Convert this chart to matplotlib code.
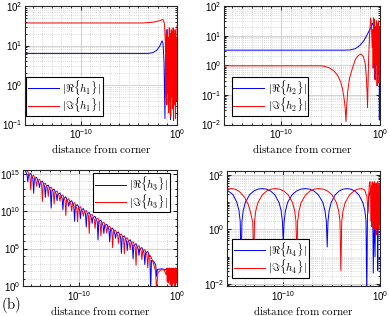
import numpy as np
import matplotlib
matplotlib.use("Agg")
import matplotlib.pyplot as plt
from matplotlib.ticker import FixedLocator, NullFormatter, LogFormatterSciNotation

plt.rcParams['font.family'] = ['Liberation Sans', 'DejaVu Sans']

# all curves stored as log10(distance), log10(|h|)
# ---- h1 ----
h1_re_x = [-15.8, -3.0, -2.5, -2.1, -1.8, -1.55, -1.45, -1.35, -1.25, -1.2, -1.12, -1.05,
           -0.98, -0.9, -0.82, -0.75, -0.68, -0.6, -0.5, -0.42, -0.35, -0.28, -0.2, -0.12, -0.06, 0.0]
h1_re_y = [0.8, 0.8, 0.82, 0.88, 0.98, 1.12, 1.05, 0.6, -0.85, 0.5, 1.4, 0.9,
           1.2, 0.3, 1.1, 0.6, -0.88, 0.9, 1.2, 0.2, 1.0, -0.4, 0.8, 0.1, 1.1, 0.5]
h1_im_x = [-15.8, -3.5, -2.5, -1.8, -1.45, -1.3, -1.2, -1.15,
           -1.1, -1.05, -1.0, -0.95, -0.9, -0.85, -0.8, -0.75, -0.7, -0.65, -0.6, -0.55,
           -0.5, -0.45, -0.4, -0.35, -0.3, -0.25, -0.2, -0.15, -0.1, -0.05, 0.0]
h1_im_y = [1.57, 1.57, 1.59, 1.63, 1.66, 1.55, 1.0, -0.3,
           1.3, -0.5, 1.4, -0.2, 1.2, -0.7, 1.45, -0.4, 1.3, -0.8, 1.4, -0.3,
           1.35, -0.6, 1.45, -0.9, 1.3, -0.5, 1.4, -0.85, 1.2, -0.4, 1.5]

# ---- h2 ----
h2_re_x = [-15.8, -3.5, -3.0, -2.5, -2.0, -1.6, -1.2, -0.9, -0.75, -0.68, -0.6, -0.55,
           -0.5, -0.42, -0.35, -0.28, -0.2, -0.15, -0.1, -0.07, -0.04, 0.0]
h2_re_y = [0.51, 0.51, 0.52, 0.56, 0.68, 0.85, 1.1, 1.3, 1.42, 1.35, 0.4, -0.45,
           0.6, 1.2, 0.8, 1.4, 0.3, -0.3, 0.9, -1.85, 0.5, 1.0]
h2_im_x = [-15.8, -6.0, -5.7, -5.2, -4.7, -4.3, -4.0, -3.8, -3.65, -3.53, -3.45, -3.38,
           -3.28, -3.1, -2.8, -2.5, -2.2, -1.95, -1.7, -1.5, -1.38, -1.3, -1.27, -1.22,
           -1.15, -1.05, -0.95, -0.88, -0.8,
           -0.75, -0.7, -0.65, -0.6, -0.55, -0.5, -0.45, -0.4, -0.35, -0.3, -0.25, -0.2,
           -0.15, -0.1, -0.05, 0.0]
h2_im_y = [-0.02, -0.02, -0.03, -0.08, -0.18, -0.34, -0.55, -0.8, -1.1, -1.45, -1.9, -1.4,
           -0.9, -0.45, -0.1, 0.2, 0.33, 0.38, 0.3, 0.05, -0.45, -1.0, -1.42, -0.7,
           0.3, 1.1, 1.6, 1.4, 0.6,
           1.2, -0.1, 1.6, 0.1, 1.55, -0.5, 1.3, 0.0, 1.5, -0.7, 1.4, -0.2,
           1.5, -0.6, 1.3, 0.5]

# ---- h3 ----
h3_re_x = [-15.8,
           -15.6, -15.38, -15.3, -15.22, -15.0, -14.78, -14.7, -14.62,
           -14.4, -14.18, -14.1, -14.02, -13.8, -13.58, -13.5, -13.42,
           -13.2, -12.98, -12.9, -12.82, -12.6, -12.38, -12.3, -12.22,
           -12.0, -11.78, -11.7, -11.62, -11.4, -11.18, -11.1, -11.02,
           -10.8, -10.58, -10.5, -10.42, -10.2, -9.98, -9.9, -9.82,
           -9.6, -9.38, -9.3, -9.22, -9.0, -8.78, -8.7, -8.62,
           -8.4, -8.18, -8.1, -8.02, -7.8, -7.58, -7.5, -7.42,
           -7.2, -6.98, -6.9, -6.82, -6.6, -6.38, -6.3, -6.22,
           -6.0, -5.78, -5.7, -5.62, -5.4, -5.18, -5.1, -5.02,
           -4.8, -4.58, -4.5, -4.42, -4.2, -3.98, -3.9, -3.82,
           -3.6, -3.38, -3.3, -3.22, -3.0, -2.78, -2.7, -2.62,
           -2.4, -2.18, -2.1, -2.02, -1.6, -1.2, -0.8, -0.62, -0.55, -0.48,
           -0.35, -0.25, -0.15, -0.08, 0.0]
h3_re_y = [15.75,
           15.57, 14.86, 13.91, 14.86, 15.05, 14.34, 12.39, 14.34,
           14.53, 13.82, 13.17, 13.82, 14.01, 13.30, 11.85, 13.30,
           13.48, 12.77, 10.42, 12.77, 12.96, 12.25, 11.40, 12.25,
           12.44, 11.73, 10.18, 11.73, 11.92, 11.21, 10.66, 11.21,
           11.40, 10.69, 8.64, 10.69, 10.87, 10.16, 9.01, 10.16,
           10.35, 9.64, 7.89, 9.64, 9.83, 9.12, 8.37, 9.12,
           9.31, 8.60, 6.15, 8.60, 8.79, 8.08, 7.03, 8.08,
           8.26, 7.55, 5.90, 7.55, 7.74, 7.03, 6.38, 7.03,
           7.22, 6.51, 4.36, 6.51, 6.70, 5.99, 4.74, 5.99,
           6.18, 5.47, 3.62, 5.47, 5.65, 4.94, 4.09, 4.94,
           5.13, 4.42, 2.87, 4.42, 4.61, 3.90, -0.65, 3.40,
           3.3, 2.8, 1.3, 2.2, 2.3, 2.2, 1.9, 1.0, -0.5, 1.2,
           2.0, 1.0, 2.1, 0.8, 1.9]
h3_im_x = [-15.8,
           -15.3, -15.08, -15.0, -14.92, -14.7, -14.48, -14.4, -14.32,
           -14.1, -13.88, -13.8, -13.72, -13.5, -13.28, -13.2, -13.12,
           -12.9, -12.68, -12.6, -12.52, -12.3, -12.08, -12.0, -11.92,
           -11.7, -11.48, -11.4, -11.32, -11.1, -10.88, -10.8, -10.72,
           -10.5, -10.28, -10.2, -10.12, -9.9, -9.68, -9.6, -9.52,
           -9.3, -9.08, -9.0, -8.92, -8.7, -8.48, -8.4, -8.32,
           -8.1, -7.88, -7.8, -7.72, -7.5, -7.28, -7.2, -7.12,
           -6.9, -6.68, -6.6, -6.52, -6.3, -6.08, -6.0, -5.92,
           -5.7, -5.48, -5.4, -5.32, -5.1, -4.88, -4.8, -4.72,
           -4.5, -4.28, -4.2, -4.12, -3.9, -3.68, -3.6, -3.52,
           -3.3, -3.08, -3.0, -2.92,
           -2.7, -2.45, -2.2, -2.1, -1.95, -1.6, -1.3, -1.12,
           -1.05, -1.0, -0.95, -0.9, -0.85, -0.8, -0.75, -0.7, -0.65, -0.6, -0.55,
           -0.5, -0.45, -0.4, -0.35, -0.3, -0.25, -0.2, -0.15, -0.1, -0.05, 0.0]
h3_im_y = [15.75,
           15.31, 14.60, 12.85, 14.60, 14.79, 14.08, 13.33, 14.08,
           14.27, 13.56, 11.31, 13.56, 13.75, 13.03, 11.98, 13.03,
           13.22, 12.51, 10.96, 12.51, 12.70, 11.99, 11.34, 11.99,
           12.18, 11.47, 9.42, 11.47, 11.66, 10.95, 10.00, 10.95,
           11.14, 10.42, 8.57, 10.42, 10.61, 9.90, 9.35, 9.90,
           10.09, 9.38, 7.03, 9.38, 9.57, 8.86, 7.71, 8.86,
           9.05, 8.34, 6.69, 8.34, 8.53, 7.81, 7.06, 7.81,
           8.00, 7.29, 5.14, 7.29, 7.48, 6.77, 5.72, 6.77,
           6.96, 6.25, 4.30, 6.25, 6.44, 5.73, 4.88, 5.73,
           5.92, 5.20, 2.75, 5.20, 5.39, 4.68, 3.53, 4.68,
           4.87, 4.16, 2.41, 4.16,
           4.0, 3.2, 2.0, -0.5, 1.8, 2.2, 2.1, 1.5,
           2.35, 0.6, 2.4, 0.4, 2.35, 0.8, 2.4, 0.2, 2.35, 0.5, 2.4,
           0.1, 2.35, 0.6, 2.4, 0.3, 2.35, -0.2, 2.4, 0.4, 2.35, 2.0]

# ---- h4 ----
h4_re_x = [-15.8, -15.65, -15.2, -14.8, -14.58, -14.45, -14.36,
           -14.27, -14.14, -13.92, -13.49, -13.05, -12.62, -12.18, -11.74, -11.31, -10.87,
           -10.44, -10.22, -10.09, -10.0,
           -9.91, -9.77, -9.55, -9.09, -8.64, -8.18, -7.73, -7.28, -6.82, -6.37,
           -5.91, -5.69, -5.55, -5.46,
           -5.38, -5.26, -5.05, -4.64, -4.23, -3.82, -3.42, -3.01, -2.60, -2.19,
           -1.78, -1.57, -1.45, -1.37,
           -1.3, -1.15, -1.0, -0.85, -0.75, -0.7, -0.62, -0.52, -0.45, -0.35, -0.28,
           -0.24, -0.18, -0.1, -0.04, 0.0]
h4_re_y = [1.43, 1.40, 1.28, 1.0, 0.7, 0.3, -1.3,
           0.30, 0.69, 0.99, 1.27, 1.41, 1.48, 1.50, 1.48, 1.41, 1.27,
           0.99, 0.69, 0.30, -0.46,
           0.30, 0.69, 0.99, 1.27, 1.41, 1.48, 1.50, 1.48, 1.41, 1.27,
           0.99, 0.69, 0.30, -0.64,
           0.30, 0.69, 0.99, 1.27, 1.41, 1.48, 1.50, 1.48, 1.41, 1.27,
           0.99, 0.69, 0.30, -2.5,
           0.5, 1.2, 1.45, 1.2, 0.4, -1.6, 0.6, -1.0, 0.9, 1.4, 0.3,
           -1.5, 0.8, 1.5, 0.5, 1.2]
h4_im_x = [-15.8, -15.65, -15.3, -14.9, -14.5, -14.0, -13.6, -13.38, -13.15, -13.06,
           -12.97, -12.84, -12.61, -12.17, -11.72, -11.28, -10.83, -10.38, -9.94, -9.49,
           -9.05, -8.82, -8.69, -8.6,
           -8.51, -8.37, -8.15, -7.69, -7.24, -6.78, -6.33, -5.87, -5.42, -4.96,
           -4.51, -4.28, -4.14, -4.05,
           -3.96, -3.82, -3.6, -3.15, -2.7, -2.3, -1.9, -1.6, -1.35,
           -1.25, -1.18, -1.1, -1.03, -0.97, -0.92,
           -0.88, -0.84, -0.8, -0.76, -0.72, -0.68, -0.64, -0.6, -0.56, -0.52, -0.48, -0.44,
           -0.4, -0.36, -0.32, -0.28, -0.24, -0.2, -0.16, -0.12, -0.08, -0.04, 0.0]
h4_im_y = [1.49, 1.49, 1.50, 1.47, 1.38, 1.18, 0.9, 0.62, 0.25, -1.2,
           0.30, 0.69, 0.99, 1.27, 1.41, 1.48, 1.50, 1.48, 1.41, 1.27,
           0.99, 0.69, 0.30, -1.0,
           0.30, 0.69, 0.99, 1.27, 1.41, 1.48, 1.50, 1.48, 1.41, 1.27,
           0.99, 0.69, 0.30, -1.5,
           0.30, 0.69, 0.99, 1.27, 1.41, 1.48, 1.50, 1.45, 1.2,
           0.6, 1.2, 1.7, 1.75, 1.3, 0.3,
           1.6, 0.1, 1.75, 0.3, 1.7, -0.1, 1.6, 0.4, 1.75, 0.0, 1.65, 0.2,
           1.7, -0.2, 1.6, 0.3, 1.75, 0.1, 1.6, 0.0, 1.7, 0.2, 1.5]

panels = [
    (h1_re_x, h1_re_y, h1_im_x, h1_im_y, r'$|\Re\{h_1\}|$', r'$|\Im\{h_1\}|$'),
    (h2_re_x, h2_re_y, h2_im_x, h2_im_y, r'$|\Re\{h_2\}|$', r'$|\Im\{h_2\}|$'),
    (h3_re_x, h3_re_y, h3_im_x, h3_im_y, r'$|\Re\{h_3\}|$', r'$|\Im\{h_3\}|$'),
    (h4_re_x, h4_re_y, h4_im_x, h4_im_y, r'$|\Re\{h_4\}|$', r'$|\Im\{h_4\}|$'),
]

# axes rectangles in figure fraction
rects = [[0.064, 0.606, 0.391, 0.375],
         [0.576, 0.606, 0.401, 0.375],
         [0.059, 0.095, 0.396, 0.367],
         [0.584, 0.095, 0.393, 0.364]]
ylims = [(1e-1, 1e2), (1e-2, 1e2), (1, 3.2e15), (8.5e-3, 1.4e2)]
ymajor = [10.0 ** np.arange(-1, 3), 10.0 ** np.arange(-2, 3),
          10.0 ** np.arange(0, 16, 5), 10.0 ** np.arange(-2, 3, 2)]
sub = np.arange(1, 10)
yminor = [np.outer(10.0 ** np.arange(-1, 2), sub).ravel(),
          np.outer(10.0 ** np.arange(-2, 2), sub).ravel(),
          10.0 ** np.arange(0, 16),
          np.outer(10.0 ** np.arange(-3, 3), sub).ravel()]
leg_loc = ['lower left', 'lower left', 'upper right', 'lower left']
leg_anchor = [(0.007, 0.072), (0.049, 0.072), (0.955, 0.974), (0.033, 0.069)]

fig = plt.figure(figsize=(3.89, 3.16), dpi=100)

for i, (rx, ry, ix, iy, lr, li) in enumerate(panels):
    ax = fig.add_axes(rects[i])
    ax.plot(10.0 ** np.array(rx), 10.0 ** np.array(ry), color='#0000ff', lw=0.7, label=lr)
    ax.plot(10.0 ** np.array(ix), 10.0 ** np.array(iy), color='#ff0000', lw=0.7, label=li)
    ax.set_xscale('log')
    ax.set_yscale('log')
    ax.set_xlim(1.6e-16, 1)
    ax.set_ylim(*ylims[i])

    ax.xaxis.set_major_locator(FixedLocator([1e-10, 1.0]))
    ax.xaxis.set_minor_locator(FixedLocator(10.0 ** np.arange(-16, 1)))
    ax.yaxis.set_major_locator(FixedLocator(ymajor[i]))
    ax.yaxis.set_minor_locator(FixedLocator(yminor[i]))
    ax.xaxis.set_major_formatter(LogFormatterSciNotation())
    ax.yaxis.set_major_formatter(LogFormatterSciNotation())
    ax.xaxis.set_minor_formatter(NullFormatter())
    ax.yaxis.set_minor_formatter(NullFormatter())

    ax.grid(True, which='major', color='#d4d4d4', lw=0.8, ls='-')
    ax.grid(True, which='minor', color='#b8b8b8', lw=0.5, ls=(0, (1, 2)))
    ax.set_axisbelow(True)
    ax.tick_params(which='both', direction='in', top=True, right=True, labelsize=7,
                   pad=2, width=0.6)
    ax.tick_params(which='major', length=3)
    ax.tick_params(which='minor', length=1.5)
    for s in ax.spines.values():
        s.set_linewidth(0.8)
        s.set_color('#262626')

    ax.set_xlabel(r'$\mathrm{distance\ from\ corner}$', fontsize=8, labelpad=1,
                  math_fontfamily='cm')
    leg = ax.legend(loc=leg_loc[i], bbox_to_anchor=leg_anchor[i], borderaxespad=0,
                    prop={'size': 8, 'math_fontfamily': 'cm'}, fancybox=False,
                    framealpha=1, edgecolor='black', handlelength=2.8,
                    labelspacing=-0.1, borderpad=0.15, handletextpad=0.3)
    leg.get_frame().set_linewidth(0.8)

fig.text(0.003, 0.022, r'$\mathrm{(b)}$', fontsize=10.5, math_fontfamily='cm')

fig.savefig('out.png', dpi=100)
